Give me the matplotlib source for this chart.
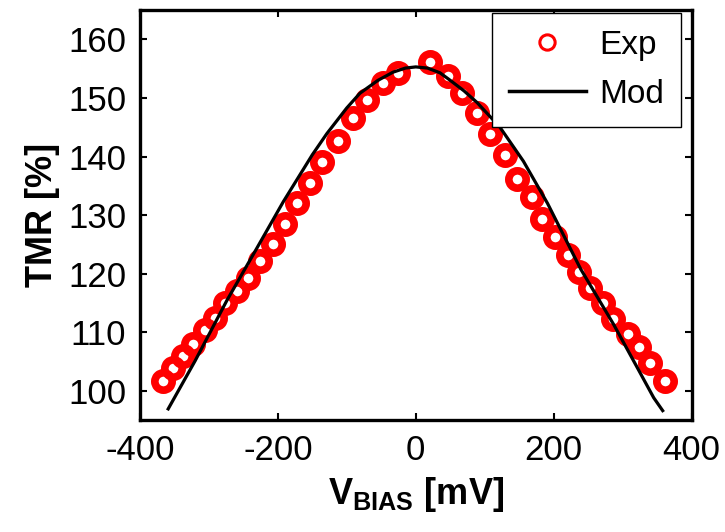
import matplotlib
matplotlib.use('Agg')
import matplotlib.pyplot as plt
from matplotlib.lines import Line2D

plt.rcParams['font.family'] = 'Liberation Sans'
plt.rcParams['axes.unicode_minus'] = False
plt.rcParams['mathtext.fontset'] = 'custom'
plt.rcParams['mathtext.rm'] = 'Liberation Sans'
plt.rcParams['mathtext.bf'] = 'Liberation Sans:bold'

# Exp - измеренные точки
v_exp = [-367, -352, -338, -323, -306, -291, -277, -259, -243, -226,
         -207, -190, -172, -153, -136, -113, -91, -71, -47, -26,
         21, 46, 67, 89, 108, 130, 147, 169, 183, 202,
         220, 236, 253, 271, 286, 307, 323, 340, 362]
tmr_exp = [101.7, 103.8, 106.0, 108.0, 110.3, 112.5, 114.9, 117.1, 119.3, 122.2,
           125.0, 128.5, 132.0, 135.4, 139.0, 142.7, 146.5, 149.6, 152.5, 154.2,
           156.1, 153.8, 150.8, 147.5, 143.9, 140.2, 136.2, 133.0, 129.4, 126.2,
           123.1, 120.2, 117.6, 114.9, 112.3, 109.7, 107.4, 104.8, 101.7]

# Mod - модель
v_mod = [-359, -320, -274, -236, -192, -150, -129, -100, -81, -55, -33, -15, 0,
         17, 35, 50, 70, 89, 122, 156, 191, 239, 287, 320, 345, 358]
tmr_mod = [96.9, 105.1, 115.4, 123.2, 132.3, 140.3, 143.9, 148.3, 150.8, 153.0, 154.4, 155.1, 155.3,
           155.1, 154.3, 153.0, 151.2, 149.2, 145.0, 139.2, 132.0, 120.8, 111.3, 104.2, 98.8, 96.6]

fig = plt.figure(figsize=(7.25, 5.32), dpi=100)
ax = fig.add_axes([0.193, 0.2105, 0.761, 0.7705])

ax.plot(v_mod, tmr_mod, color='black', lw=2.3, zorder=3)
ax.plot(v_exp, tmr_exp, ls='none', marker='o', ms=12.5, mfc='none', mec='red', mew=5.5, zorder=2)

ax.set_xlim(-400, 400)
ax.set_ylim(95, 165)
ax.set_xticks([-400, -200, 0, 200, 400])
ax.set_yticks([100, 110, 120, 130, 140, 150, 160])
ax.tick_params(direction='in', length=5, width=1.5, labelsize=25, top=True, right=True, pad=10)
for s in ax.spines.values():
    s.set_linewidth(2.4)

ax.set_xlabel(r'$\mathbf{V_{BIAS}}$ [mV]', fontsize=26, fontweight='bold', labelpad=6)
ax.set_ylabel('TMR [%]', fontsize=26, fontweight='bold', labelpad=6)

h_exp = Line2D([], [], ls='none', marker='o', ms=11, mfc='none', mec='red', mew=2.2)
h_mod = Line2D([], [], color='black', lw=2.5)
leg = ax.legend([h_exp, h_mod], ['Exp', 'Mod'], loc='upper right', bbox_to_anchor=(0.98, 0.993),
                borderaxespad=0, fontsize=24, fancybox=False, framealpha=1,
                edgecolor='black', handlelength=2.3, handletextpad=0.4, borderpad=0.5,
                labelspacing=0.55)
leg.get_frame().set_linewidth(1.0)

fig.savefig('out.png', dpi=100)
